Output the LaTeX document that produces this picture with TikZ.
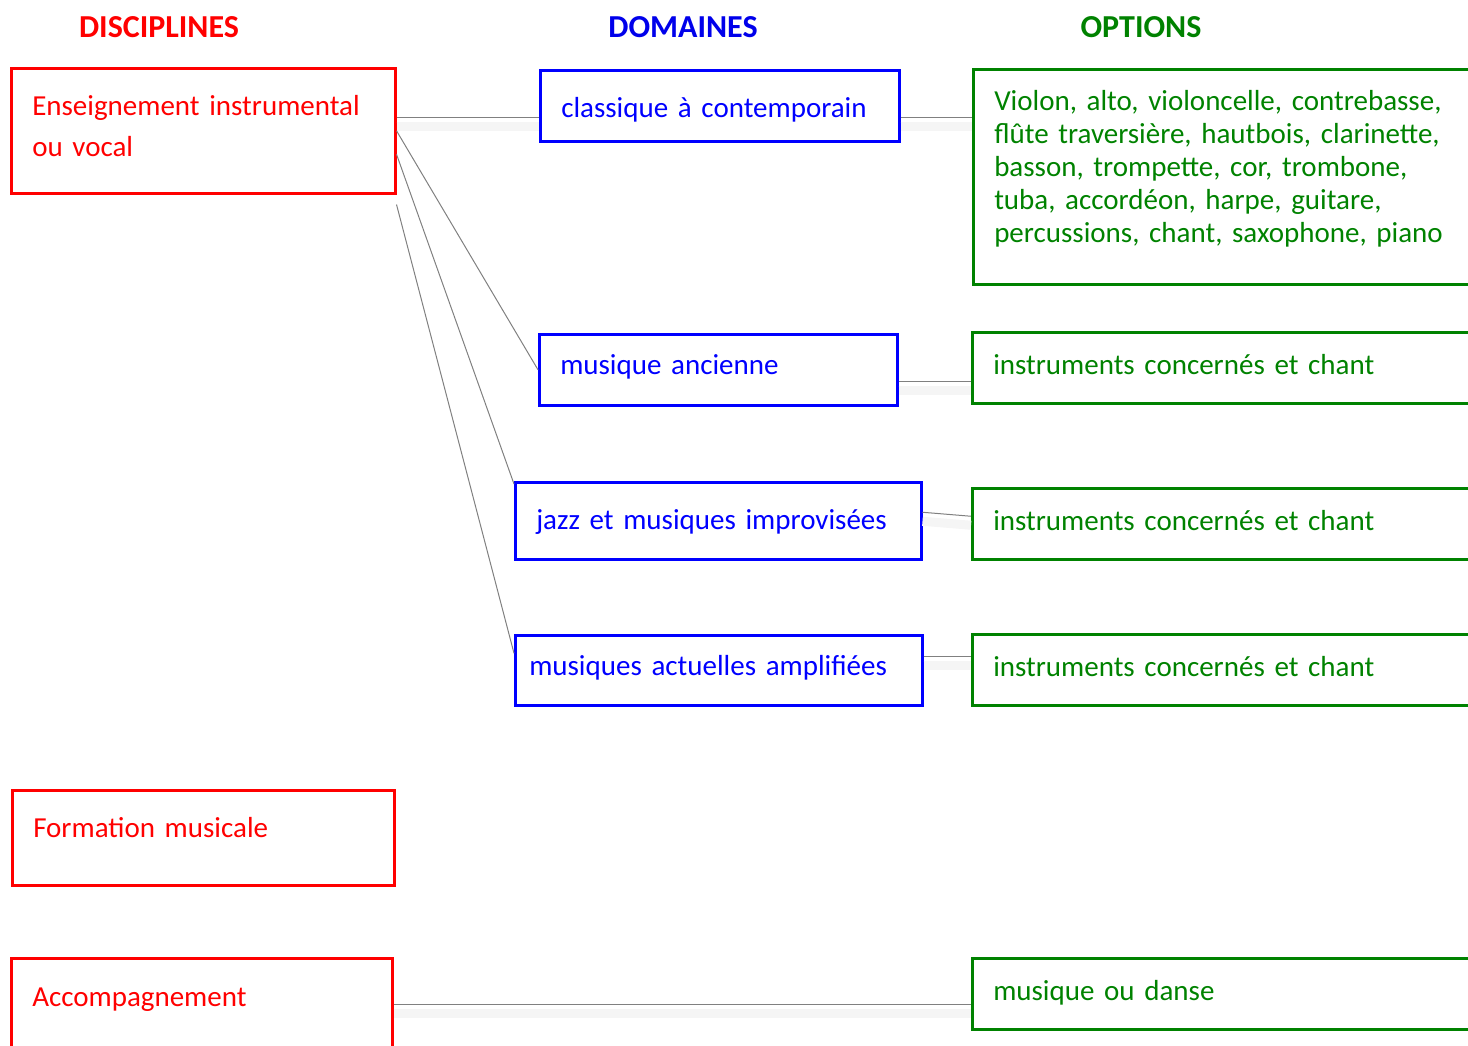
\documentclass[tikz,border=0pt]{standalone}
\usepackage{fontspec}
\setmainfont{Carlito}
\usetikzlibrary{positioning}
\definecolor{optgreen}{RGB}{0,130,0}
\definecolor{domblue}{RGB}{0,0,235}
\tikzset{
  box/.style={draw, line width=2.5pt, anchor=north west, inner xsep=21pt, inner ysep=0pt, align=left, font=\fontsize{29}{34}\selectfont},
  one/.style={text height=20pt, text depth=6pt},
  disc/.style={box, draw=red, text=red},
  dom/.style={box, one, draw=blue, text=blue},
  opt/.style={box, draw=optgreen, text=optgreen},
  head/.style={font=\fontsize{32}{34}\selectfont\bfseries},
  link/.style={draw=gray, line width=1pt},
  flat/.style={link, preaction={draw=black!4, line width=9pt, transform canvas={yshift=-9pt}}},
}

\begin{document}
\begin{tikzpicture}[x=1pt, y=-1pt]

  \useasboundingbox (0,0) rectangle (1468,1045);
  \clip (0,0) rectangle (1468,1045);

  % headers
  \node[head, text=red] (hdisc) at (159,27) {DISCIPLINES};
  \node[head, text=domblue] (hdom) at (683,27) {DOMAINES};
  \node[head, text=optgreen] (hopt) at (1141,27) {OPTIONS};

  % disciplines
  \node[disc, minimum width=384, text width=342, minimum height=125, text height=20pt, text depth=51pt, font=\fontsize{29}{41}\selectfont] (ens) at (10,67) {Enseignement instrumental\\ou vocal};
  \node[disc, one, text depth=20pt, minimum width=382, text width=340, minimum height=95] (form) at (11,789) {Formation musicale};
  \node[disc, one, text depth=18pt, minimum width=381, text width=339, minimum height=95] (acc) at (10,957) {Accompagnement};

  % domaines
  \node[dom, text height=30pt, minimum width=359, text width=317, minimum height=71] (clas) at (539,69) {classique à contemporain};
  \node[dom, text depth=10pt, minimum width=358, text width=316, minimum height=71] (anc) at (538,333) {musique ancienne};
  \node[dom, text height=24pt, minimum width=406, text width=364, minimum height=77] (jazz) at (514,481) {jazz et musiques improvisées};
  \node[dom, text depth=10pt, minimum width=407, text width=379, minimum height=70, inner xsep=14pt] (act) at (514,634) {musiques actuelles amplifiées};

  % options
  \node[opt, minimum width=520, text width=478, minimum height=215, text height=20pt, text depth=153pt, font=\fontsize{29}{33}\selectfont] (optA) at (972,68) {Violon, alto, violoncelle, contrebasse,\\flûte traversière, hautbois, clarinette,\\basson, trompette, cor, trombone,\\tuba, accordéon, harpe, guitare,\\percussions, chant, saxophone, piano};
  \node[opt, one, minimum width=520, text width=478, minimum height=71] (optB) at (971,331) {instruments concernés et chant};
  \node[opt, one, minimum width=520, text width=478, minimum height=71] (optC) at (971,487) {instruments concernés et chant};
  \node[opt, one, minimum width=520, text width=478, minimum height=71] (optD) at (971,633) {instruments concernés et chant};
  \node[opt, one, minimum width=520, text width=478, minimum height=71] (optE) at (971,957) {musique ou danse};

  % links
  \draw[flat] ([yshift=13.5pt]ens.east) -- ([yshift=-11.5pt]clas.west);
  \draw[link] (ens.east) -- (anc.west);
  \draw[link] ([yshift=-23.5pt]ens.east) -- ([yshift=-3pt]jazz.north west);
  \draw[link] ([yshift=-10pt]ens.south east) -- ([yshift=17pt]act.west);

  \draw[flat] ([yshift=-11.5pt]clas.east) -- ([yshift=59.5pt]optA.west);
  \draw[flat] ([yshift=-11.5pt]anc.east) -- ([yshift=-13.5pt]optB.west);
  \draw[flat] ([yshift=8.5pt]jazz.east) -- ([yshift=7.5pt]optC.west);
  \draw[flat] ([yshift=14pt]act.east) -- ([yshift=13.5pt]optD.west);
  \draw[flat] ([yshift=1.5pt]acc.east) -- ([yshift=-10.5pt]optE.west);

\end{tikzpicture}
\end{document}
